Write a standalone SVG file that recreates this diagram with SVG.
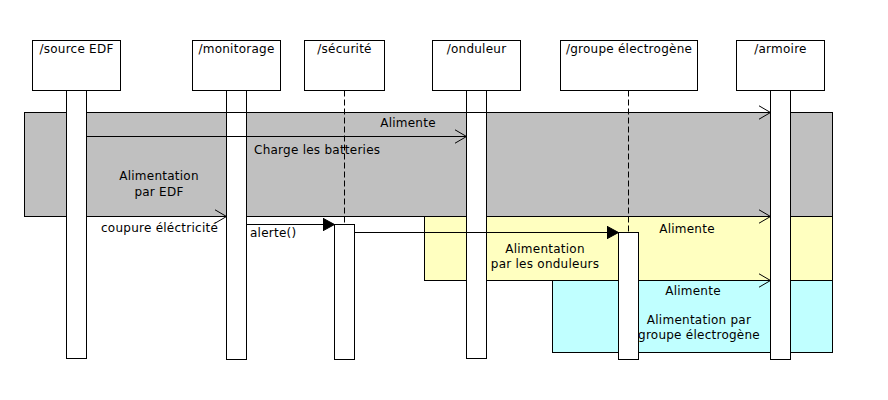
<svg xmlns="http://www.w3.org/2000/svg" width="888" height="400" viewBox="0 0 888 400">
<style>
text{font-family:"DejaVu Sans",sans-serif;font-size:12px;letter-spacing:0.25px;fill:#000}
.c{text-anchor:middle}
.box{fill:#fff;stroke:#000;stroke-width:1}
.act{fill:#fff;stroke:#000;stroke-width:1}
.dash{stroke:#000;stroke-width:1;stroke-dasharray:6,3;fill:none}
.msg{stroke:#000;stroke-width:1;fill:none}
</style>
<defs>
<marker id="openArrow" markerWidth="14" markerHeight="16" refX="12" refY="7.5" orient="auto" markerUnits="userSpaceOnUse">
<path d="M0,0.5 L12,7.5 L0,14.5" fill="none" stroke="#000" stroke-width="1"/>
</marker>
<marker id="filledArrow" markerWidth="14" markerHeight="16" refX="12" refY="7" orient="auto" markerUnits="userSpaceOnUse">
<path d="M0,0.5 L12,7 L0,13.5 Z" fill="#000" stroke="#000" stroke-width="1"/>
</marker>
</defs>
<rect fill="#fff" width="888" height="400"/>
<g id="fragments">
<rect x="24.5" y="112.5" width="808" height="104" fill="#c0c0c0" stroke="#000"/>
<rect x="424.5" y="216.5" width="408" height="64" fill="#ffffc0" stroke="#000"/>
<rect x="552.5" y="280.5" width="280" height="72" fill="#c0ffff" stroke="#000"/>
<text class="c" x="159" y="180">Alimentation</text>
<text class="c" x="159" y="196">par EDF</text>
<text class="c" x="545" y="253">Alimentation</text>
<text class="c" x="545" y="268">par les onduleurs</text>
<text class="c" x="699" y="324">Alimentation par</text>
<text class="c" x="699" y="339">groupe électrogène</text>
</g>
<g id="sourceEDF">
<rect class="box" x="32.5" y="40.5" width="88" height="50"/>
<text class="c" x="76.5" y="53">/source EDF</text>
<rect class="act" x="66.5" y="90.5" width="20" height="268"/>
</g>
<g id="monitorage">
<rect class="box" x="192.5" y="40.5" width="88" height="50"/>
<text class="c" x="236.5" y="53">/monitorage</text>
<rect class="act" x="226.5" y="90.5" width="20" height="269"/>
</g>
<g id="securite">
<rect class="box" x="304.5" y="40.5" width="80" height="50"/>
<text class="c" x="344.5" y="53">/sécurité</text>
<line class="dash" x1="344.5" y1="90.5" x2="344.5" y2="224.5"/>
<rect class="act" x="334.5" y="224.5" width="20" height="135"/>
</g>
<g id="onduleur">
<rect class="box" x="432.5" y="40.5" width="88" height="50"/>
<text class="c" x="476.5" y="53">/onduleur</text>
<rect class="act" x="466.5" y="90.5" width="20" height="268"/>
</g>
<g id="groupe">
<rect class="box" x="560.5" y="40.5" width="137" height="50"/>
<text class="c" x="629" y="53">/groupe électrogène</text>
<line class="dash" x1="628.5" y1="90.5" x2="628.5" y2="232.5"/>
<rect class="act" x="618.5" y="232.5" width="20" height="127"/>
</g>
<g id="armoire">
<rect class="box" x="736.5" y="40.5" width="88" height="50"/>
<text class="c" x="780.5" y="53">/armoire</text>
<rect class="act" x="770.5" y="90.5" width="20" height="269"/>
</g>
<g id="connectors">
<line class="msg" x1="86.5" y1="112.5" x2="770.5" y2="112.5" marker-end="url(#openArrow)"/>
<text class="c" x="408" y="127">Alimente</text>
<line class="msg" x1="86.5" y1="136.5" x2="466.5" y2="136.5" marker-end="url(#openArrow)"/>
<text x="254" y="154">Charge les batteries</text>
<line class="msg" x1="86.5" y1="216.5" x2="226.5" y2="216.5" marker-end="url(#openArrow)"/>
<text x="101" y="232">coupure éléctricité</text>
<line class="msg" x1="246.5" y1="224.5" x2="334.5" y2="224.5" marker-end="url(#filledArrow)"/>
<text x="250" y="237">alerte()</text>
<line class="msg" x1="354.5" y1="232.5" x2="618.5" y2="232.5" marker-end="url(#filledArrow)"/>
<line class="msg" x1="638.5" y1="216.5" x2="770.5" y2="216.5" marker-end="url(#openArrow)"/>
<text class="c" x="687" y="233">Alimente</text>
<line class="msg" x1="638.5" y1="280.5" x2="770.5" y2="280.5" marker-end="url(#openArrow)"/>
<text class="c" x="693" y="295">Alimente</text>
</g>
</svg>
